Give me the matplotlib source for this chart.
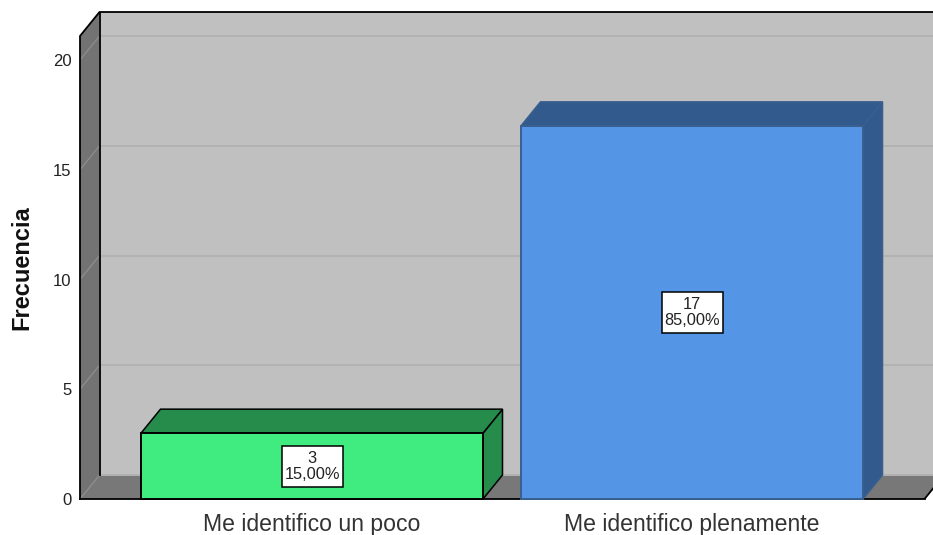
import matplotlib
matplotlib.use('Agg')
import matplotlib.pyplot as plt
from matplotlib.patches import Polygon, Rectangle

plt.rcParams['font.family'] = ['Liberation Sans', 'DejaVu Sans']

categories = ['Me identifico un poco', 'Me identifico plenamente']
counts = [3, 17]
percents = ['15,00%', '85,00%']
yticks = [0, 5, 10, 15, 20]
front_colors = ['#40EC80', '#5495E6']
top_colors = ['#258C4C', '#325A8C']
edge_colors = ['#000000', '#3A5F8F']

W, H = 933, 535
px_x = 380.0
px_y = 21.95
dx = 19.5 / px_x
dy = 24 / px_y
bar_w = 0.9

fig = plt.figure(figsize=(W / 100, H / 100), dpi=100, facecolor='white')
ax = fig.add_axes([80 / W, (H - 499) / H, 853 / W, 487 / H])
xmin = (80 - 312) / px_x
xmax = (933 - 312) / px_x
ymax = 487 / px_y
xfar = xmax + 11 / px_x
ax.set_xlim(xmin, xmax)
ax.set_ylim(0, ymax)

def poly(pts, fc, ec='none', lw=1.5, z=1):
    ax.add_patch(Polygon(pts, closed=True, facecolor=fc, edgecolor=ec, linewidth=lw, zorder=z,
                         joinstyle='miter', clip_on=False))

# paredes
poly([(xmin + dx, dy), (xfar, dy), (xfar, ymax), (xmin + dx, ymax)], '#C0C0C0')
poly([(xmin, 0), (xmin + dx, dy), (xmin + dx, ymax), (xmin, ymax - dy)], '#737373')
poly([(xmin, 0), (xmin + dx, dy), (xfar, dy), (xfar - dx, 0)], '#787878')

# lineas de rejilla
for t in yticks:
    ax.plot([xmin + dx, xfar], [t + dy, t + dy], color='#B2B2B2', lw=1.4, zorder=2)
    ax.plot([xmin, xmin + dx], [t, t + dy], color='#8E8E8E', lw=0.9, zorder=2)

# bordes del marco
ax.plot([xmin, xmin, xmin + dx, xfar], [0, ymax - dy, ymax, ymax], color='black', lw=1.3, zorder=3, clip_on=False)
ax.plot([xmin + dx, xmin + dx], [dy, ymax], color='black', lw=1.3, zorder=3)
ax.plot([xmin, xfar - dx], [0, 0], color='black', lw=1.3, zorder=3, clip_on=False)
ax.plot([xfar - dx, xmax], [0, dy * (xmax - xfar + dx) / dx], color='black', lw=1.3, zorder=3)

# barras
for i, v in enumerate(counts):
    l, r = i - bar_w / 2, i + bar_w / 2
    poly([(r, 0), (r + dx, dy), (r + dx, v + dy), (r, v)], top_colors[i], edge_colors[i], 1.1, 4)
    poly([(l, v), (l + dx, v + dy), (r + dx, v + dy), (r, v)], top_colors[i], edge_colors[i], 1.1, 4)
    poly([(l, 0), (r, 0), (r, v), (l, v)], front_colors[i], edge_colors[i], 1.4, 5)
    ax.add_patch(Rectangle((i - 30.5 / px_x, v / 2 - 20.5 / px_y), 61 / px_x, 41 / px_y, facecolor='white',
                           edgecolor='black', linewidth=1.1, zorder=6))
    ax.text(i, v / 2, f'{v}\n{percents[i]}', ha='center', va='center', ma='center', fontsize=11.8,
            linespacing=1.08, color='#222222', zorder=7)

for s in ax.spines.values():
    s.set_visible(False)
ax.set_xticks(range(len(categories)))
ax.set_xticklabels(categories, fontsize=16.6, color='#333333')
ax.set_yticks(yticks)
ax.set_yticklabels([str(t) for t in yticks], fontsize=12, color='#222222')
ax.tick_params(axis='both', length=0)
ax.tick_params(axis='x', pad=10)
ax.tick_params(axis='y', pad=6)
fig.text(22 / W, 1 - 268 / H, 'Frecuencia', rotation=90, ha='center', va='center', fontsize=17, fontweight='bold',
         color='#111111')

fig.savefig('out.png', dpi=100)
